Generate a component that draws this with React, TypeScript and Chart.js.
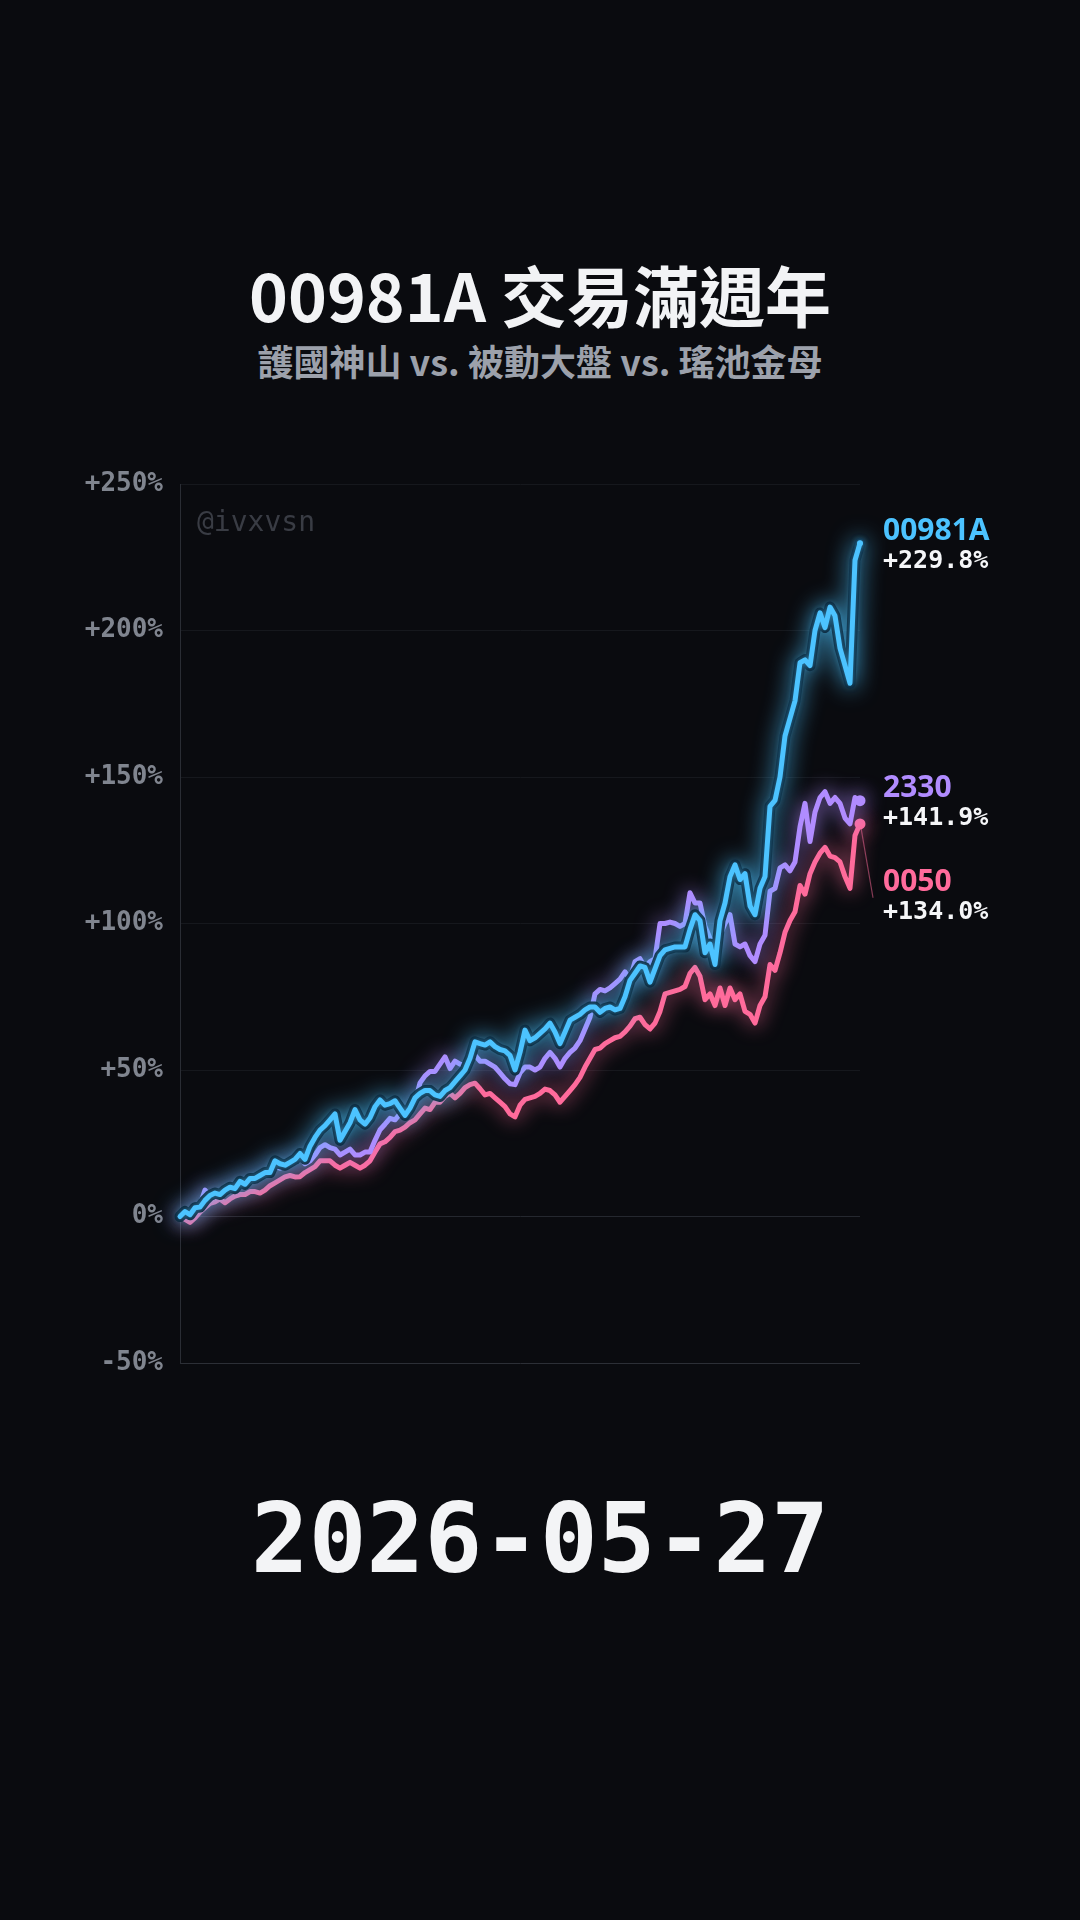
import React, { useEffect, useRef } from 'react';
import { Chart, registerables } from 'chart.js';

Chart.register(...registerables);

// ---- data (cumulative return, %) ----
const etf00981A = [
  0, 1.7, 0.6, 3, 3.2, 5.5, 7.2, 8, 7.5, 9,
  10, 9.5, 12, 11, 13, 13, 14, 15, 15, 19,
  18, 17.5, 18.5, 19.5, 21.5, 19.5, 24, 27, 29.5, 31,
  33, 35, 26, 29, 32, 36.5, 33, 31.5, 33.7, 37.5,
  39.8, 38, 38.5, 39.5, 37, 34.5, 37, 40.5, 42, 43,
  43, 41.5, 41, 43, 44, 46, 48, 50, 54, 59.6,
  59, 58.5, 59.6, 58, 57, 56.5, 55, 50, 56, 63.6,
  60, 61, 62.5, 64, 66, 63, 59, 63, 67, 68,
  69, 70.5, 71.5, 71.5, 69.7, 71, 71.5, 70.5, 71, 75,
  80.6, 83, 85.5, 85, 80, 84.5, 89, 91, 91.5, 92,
  92, 92, 98, 103, 101, 90, 93, 86, 101, 107,
  116, 120, 115, 117, 106, 103, 112, 116, 140, 142,
  150, 164, 170, 176, 189, 190, 188, 200, 206, 201,
  208, 205, 194, 188, 182, 224, 229.8,
];

const tsmc2330 = [
  0, 1, 0.5, 2.5, 4, 9, 7, 7, 7.5, 8.5,
  9, 10, 12, 11, 12, 12, 13.5, 14, 16, 17,
  16.5, 17, 18, 18.5, 20, 18, 19, 21, 23.5, 24.5,
  23.5, 23, 21, 22, 23, 21, 21, 22, 22, 26,
  29.6, 31.5, 33.5, 33, 35, 36.5, 37, 39, 45.6, 48,
  49.5, 49.5, 52, 54.5, 50.5, 53, 52, 51.5, 54, 55,
  53, 53, 52, 51, 49, 47, 45.3, 45, 49, 51,
  51, 50, 51, 54, 56, 54, 51, 54, 56, 57.5,
  60, 64, 68, 76, 77.5, 77, 78, 79.5, 81, 83.5,
  81, 87, 88, 85, 87, 88, 100, 100, 100.5, 100,
  99, 100, 110.5, 107, 107, 99, 95, 93, 96, 100,
  103, 93, 92, 93, 89, 87, 93, 96, 111, 112,
  119, 120, 118, 121, 133, 141, 128, 138, 143, 145,
  141, 143, 141, 136, 134, 143, 141.9,
];

const etf0050 = [
  0, -1, -2, -0.5, 1.5, 3, 4.5, 5, 6, 4.7,
  6, 7, 7.5, 7.5, 8.5, 8.5, 8, 9, 10.5, 11.5,
  12.5, 13.5, 14, 13.5, 13.6, 15, 16, 17, 19, 19,
  19, 17.5, 16.5, 17.5, 18.5, 17.5, 16.5, 17.5, 19, 22,
  24.8, 25.5, 27, 29, 29.5, 30.5, 32, 33, 35, 37,
  36.5, 39, 39, 41, 42, 40.5, 42, 44, 45, 45.5,
  43.6, 41.5, 42, 40.5, 39, 37.5, 35, 34, 38, 40,
  40.5, 41, 42, 43.5, 43, 41.5, 39, 41, 43, 45,
  47.5, 51, 54, 57, 57.5, 59, 60, 61, 61.5, 63,
  65, 67.5, 68, 65.5, 64, 66, 70, 76, 76.5, 77,
  77.5, 78.5, 83, 85, 82, 74, 76, 72, 78, 72,
  78, 74, 76, 70, 69, 66, 72, 75, 86, 84,
  90, 97, 101, 104, 113, 110, 117, 121, 124, 126,
  123, 122.5, 121, 116, 112, 130, 134,
];

const tradingDays = etf00981A.map((_, i) => String(i + 1));
const seriesNames = ['00981A', '2330', '0050'];
const seriesColors = ['#4cc3ff', '#b18cff', '#ff6b9b'];
const yTicks = [-50, 0, 50, 100, 150, 200, 250];

const TITLE = '00981A 交易滿週年';
const SUBTITLE = '護國神山 vs. 被動大盤 vs. 瑤池金母';
const DATE_TEXT = '2026-05-27';
const WATERMARK = '@ivxvsn';

const BG = '#0a0b0f';
const MONO = '"DejaVu Sans Mono", "Liberation Mono", monospace';
const CJK = '"Noto Sans CJK TC", "Noto Sans", sans-serif';

const glowPlugin = {
  id: 'glowLines',
  beforeDatasetDraw(chart: any, args: any) {
    const ds: any = chart.data.datasets[args.index];
    const ctx = chart.ctx;
    ctx.save();
    if (ds.glowColor) {
      ctx.shadowColor = ds.glowColor;
      ctx.shadowBlur = ds.glowBlur || 0;
    }
  },
  afterDatasetDraw(chart: any) {
    chart.ctx.restore();
  },
};

const endLabelPlugin = {
  id: 'endLabels',
  afterDatasetsDraw(chart: any) {
    const ctx = chart.ctx;
    const area = chart.chartArea;
    const items: any[] = [];
    chart.data.datasets.forEach((ds: any, i: number) => {
      if (!ds.labelName) return;
      const meta = chart.getDatasetMeta(i);
      const pt = meta.data[meta.data.length - 1];
      const value = ds.data[ds.data.length - 1];
      items.push({ name: ds.labelName, color: ds.borderColor, value, x: pt.x, y: pt.y, c: pt.y + 3, nat: pt.y + 3 });
    });
    items.sort((a, b) => a.y - b.y);
    for (let k = 1; k < items.length; k++) {
      if (items[k].c < items[k - 1].c + 94) items[k].c = items[k - 1].c + 94;
    }
    const lx = area.right + 23;
    items.forEach((it) => {
      if (Math.abs(it.c - it.nat) > 4) {
        ctx.save();
        ctx.strokeStyle = it.color;
        ctx.globalAlpha = 0.5;
        ctx.lineWidth = 1.2;
        ctx.beginPath();
        ctx.moveTo(it.x + 1, it.y + 4);
        ctx.lineTo(lx - 10, it.c);
        ctx.stroke();
        ctx.restore();
      }
      ctx.save();
      ctx.textAlign = 'left';
      ctx.textBaseline = 'middle';
      ctx.fillStyle = it.color;
      ctx.font = 'bold 30px "Noto Sans", sans-serif';
      ctx.fillText(it.name, lx, it.c - 15);
      ctx.fillStyle = '#f5f6f8';
      ctx.font = 'bold 25px ' + MONO;
      ctx.fillText('+' + it.value.toFixed(1) + '%', lx, it.c + 15);
      ctx.restore();
    });
  },
};

function lastPointRadius(r: number) {
  return (c: any) => (c.dataIndex === c.dataset.data.length - 1 ? r : 0);
}

function ChartCanvas() {
  const ref = useRef<HTMLCanvasElement | null>(null);
  useEffect(() => {
    if (!ref.current) return;
    const chart = new Chart(ref.current, {
      type: 'line',
      data: {
        labels: tradingDays,
        datasets: [
          {
            label: seriesNames[0],
            labelName: seriesNames[0],
            data: etf00981A,
            borderColor: seriesColors[0],
            backgroundColor: seriesColors[0],
            borderWidth: 5,
            pointRadius: lastPointRadius(3),
            pointBorderWidth: 0,
            pointBackgroundColor: seriesColors[0],
            tension: 0,
            borderJoinStyle: 'round',
            borderCapStyle: 'round',
            clip: false,
            glowColor: 'rgba(76,195,255,0.6)',
            glowBlur: 6,
          } as any,
          {
            label: 'outline',
            data: etf00981A,
            borderColor: 'rgba(10,34,52,0.95)',
            borderWidth: 11,
            pointRadius: 0,
            tension: 0,
            borderJoinStyle: 'round',
            borderCapStyle: 'round',
            clip: false,
            glowColor: 'rgba(76,195,255,0.85)',
            glowBlur: 22,
          } as any,
          {
            label: seriesNames[1],
            labelName: seriesNames[1],
            data: tsmc2330,
            borderColor: seriesColors[1],
            backgroundColor: seriesColors[1],
            borderWidth: 5,
            pointRadius: lastPointRadius(5.5),
            pointBorderWidth: 0,
            pointBackgroundColor: seriesColors[1],
            tension: 0,
            borderJoinStyle: 'round',
            borderCapStyle: 'round',
            clip: false,
            glowColor: 'rgba(177,140,255,0.9)',
            glowBlur: 20,
          } as any,
          {
            label: seriesNames[2],
            labelName: seriesNames[2],
            data: etf0050,
            borderColor: seriesColors[2],
            backgroundColor: seriesColors[2],
            borderWidth: 5,
            pointRadius: lastPointRadius(5.5),
            pointBorderWidth: 0,
            pointBackgroundColor: seriesColors[2],
            tension: 0,
            borderJoinStyle: 'round',
            borderCapStyle: 'round',
            clip: false,
            glowColor: 'rgba(255,107,155,0.9)',
            glowBlur: 20,
          } as any,
        ],
      },
      options: {
        animation: false,
        responsive: false,
        maintainAspectRatio: false,
        events: [],
        layout: { padding: { top: 44, bottom: 37, left: 0, right: 220 } },
        plugins: { legend: { display: false }, tooltip: { enabled: false } },
        scales: {
          x: { type: 'category', display: false, offset: false },
          y: {
            min: -50,
            max: 250,
            afterFit: (s: any) => {
              s.width = 180;
            },
            afterBuildTicks: (s: any) => {
              s.ticks = yTicks.map((v) => ({ value: v }));
            },
            ticks: {
              padding: 17,
              color: '#80858f',
              font: { family: MONO, size: 26, weight: 'bold' },
              callback: (v: any) => (Number(v) > 0 ? '+' : '') + v + '%',
            },
            grid: {
              drawTicks: false,
              lineWidth: 1,
              color: (c: any) => {
                const v = c.tick ? c.tick.value : null;
                if (v === -50) return '#2c2f36';
                if (v === 0) return '#25282f';
                return '#16181d';
              },
            },
            border: { display: true, color: '#2a2d34', width: 1 },
          },
        },
      } as any,
      plugins: [glowPlugin, endLabelPlugin],
    });
    return () => chart.destroy();
  }, []);
  return (
    <canvas
      ref={ref}
      width={1080}
      height={960}
      style={{ position: 'absolute', left: 0, top: 440, width: 1080, height: 960 }}
    />
  );
}

export default function App() {
  useEffect(() => {
    document.body.style.margin = '0';
    document.body.style.background = BG;
  }, []);
  return (
    <div
      style={{
        position: 'absolute',
        left: 0,
        top: 0,
        width: 1080,
        height: 1920,
        background: BG,
        overflow: 'hidden',
      }}
    >
      <div
        style={{
          position: 'absolute',
          left: 0,
          top: 260,
          width: 1080,
          textAlign: 'center',
          fontFamily: CJK,
          fontWeight: 700,
          fontSize: 66,
          lineHeight: '66px',
          color: '#f2f3f5',
          whiteSpace: 'nowrap',
        }}
      >
        {TITLE}
      </div>
      <div
        style={{
          position: 'absolute',
          left: 0,
          top: 342,
          width: 1080,
          textAlign: 'center',
          fontFamily: CJK,
          fontWeight: 700,
          fontSize: 36,
          lineHeight: '36px',
          color: '#9ca1ab',
          whiteSpace: 'nowrap',
        }}
      >
        {SUBTITLE}
      </div>
      <ChartCanvas />
      <div
        style={{
          position: 'absolute',
          left: 197,
          top: 508,
          fontFamily: MONO,
          fontSize: 28,
          lineHeight: '28px',
          color: '#393c44',
          whiteSpace: 'nowrap',
        }}
      >
        {WATERMARK}
      </div>
      <div
        style={{
          position: 'absolute',
          left: 0,
          top: 1491,
          width: 1080,
          textAlign: 'center',
          fontFamily: MONO,
          fontWeight: 700,
          fontSize: 96,
          lineHeight: '96px',
          color: '#f3f4f6',
          whiteSpace: 'nowrap',
        }}
      >
        {DATE_TEXT}
      </div>
    </div>
  );
}
